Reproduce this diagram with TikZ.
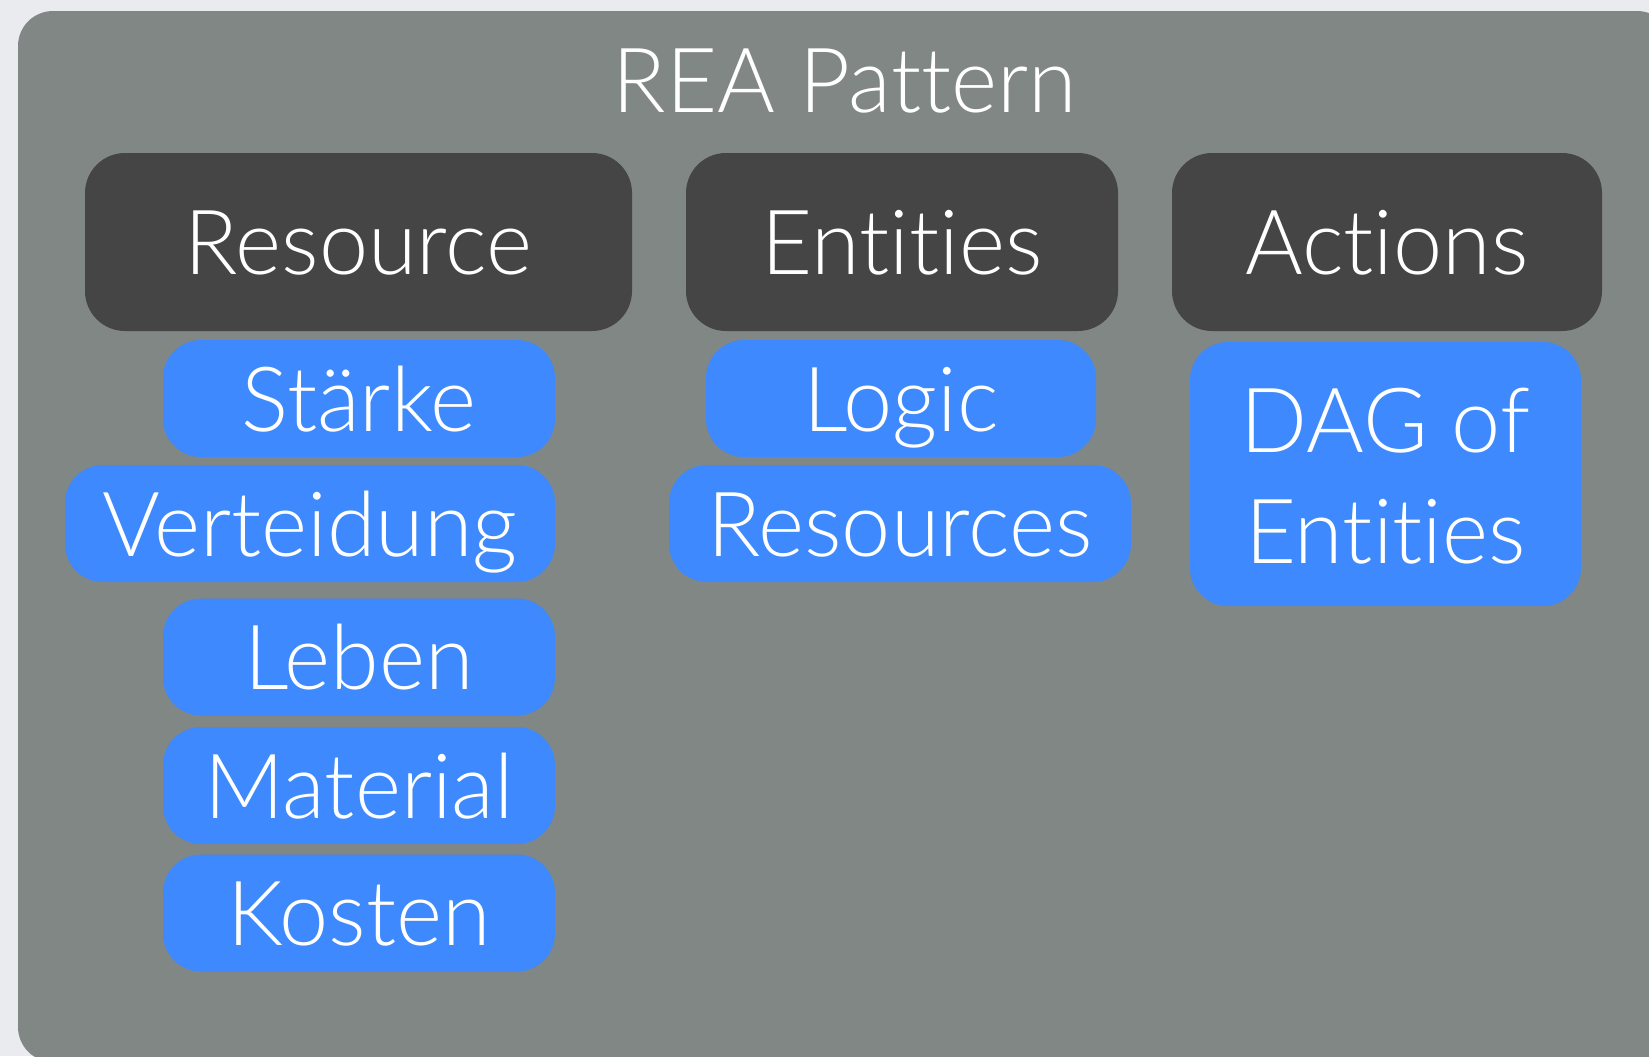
\documentclass[tikz,border=0pt]{standalone}
\usepackage{fontspec}
\setmainfont{Lato Light}[Ligatures={TeX,NoCommon}, FakeStretch=0.98]
\definecolor{pagebg}{RGB}{233,235,238}
\definecolor{panelgray}{RGB}{129,135,132}
\definecolor{headdark}{RGB}{69,69,69}
\definecolor{itemblue}{RGB}{61,137,253}
\begin{document}
\begin{tikzpicture}[x=0.5pt,y=-0.5pt,
  lbl/.style={text=white, font=\fontsize{45}{54}\selectfont, inner sep=0pt},
  capbox/.style={lbl, text height=32.5pt, text depth=0pt},
  head/.style={capbox, fill=headdark, rounded corners=20pt, minimum height=89pt},
  item/.style={capbox, fill=itemblue, rounded corners=19pt, minimum height=58.5pt},
]
% page and clipping frame
\fill[pagebg] (0,0) rectangle (1649,1056);
\clip (0,0) rectangle (1649,1056);
\useasboundingbox (0,0) rectangle (1649,1056);

% grey panel
\fill[panelgray, rounded corners=17.5pt] (18,11) rectangle (1672,1062);
\node[lbl, anchor=base] (title) at (845,112.5) {REA Pattern};

% column headers
\node[head, minimum width=273.5pt] (resource) at (358.5,242) {Resource};
\node[head, minimum width=216pt]   (entities) at (902,242)   {Entities};
\node[head, minimum width=215pt]   (actions)  at (1387,242)  {Actions};

% resource items
\node[item, minimum width=196pt] (staerke)    at (359,398.5) {Stärke};
\node[item, minimum width=245pt] (verteidung) at (310,523.5) {Verteidung};
\node[item, minimum width=196pt] (leben)      at (359,657)   {Leben};
\node[item, minimum width=196pt] (material)   at (359,785.5) {Material};
\node[item, minimum width=196pt] (kosten)     at (359,913)   {Kosten};

% entity items
\node[item, minimum width=195pt] (logic)     at (901,398.5) {Logic};
\node[item, minimum width=231pt] (resources) at (900,523.5) {Resources};

% action items
\node[item, minimum width=195.5pt, minimum height=132pt] (dag) at (1385.5,474) {};
\node[lbl, anchor=base] (dagtop) at ([yshift=11pt]dag.center)    {DAG of};
\node[lbl, anchor=base] (dagbot) at ([yshift=-44.5pt]dag.center) {Entities};
\end{tikzpicture}
\end{document}
